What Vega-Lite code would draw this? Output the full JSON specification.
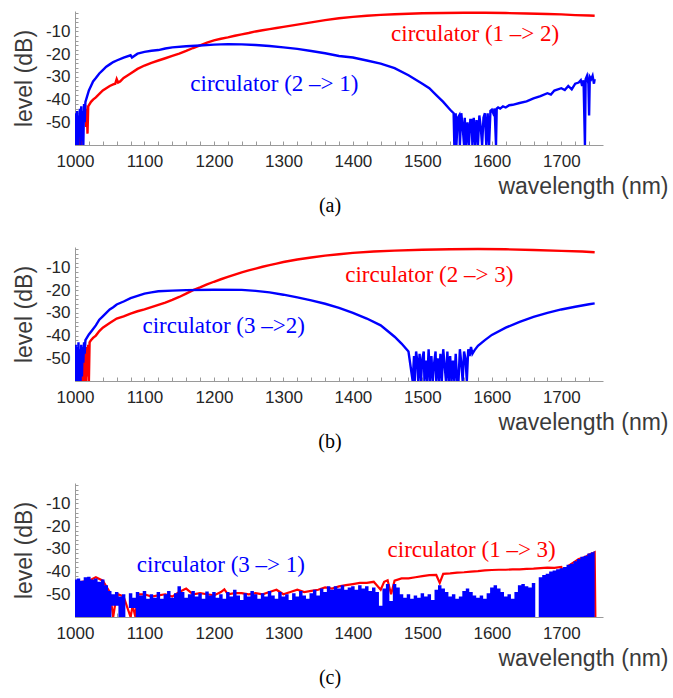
{
"$schema": "https://vega.github.io/schema/vega-lite/v6.json",
"padding": {"left": 12, "top": 4, "right": 5, "bottom": 5},
"background": "white",
"config": {
  "view": {"stroke": null},
  "axis": {"domainColor": "#9a9a9a", "tickColor": "#9a9a9a", "labelFont": "Liberation Sans", "labelFontSize": 17, "labelColor": "#262626", "titleFont": "Liberation Sans", "titleFontSize": 23, "titleFontWeight": "normal", "titleColor": "#3a3a3a", "grid": false},
  "title": {"font": "Liberation Serif", "fontSize": 20, "fontWeight": "normal", "color": "#000000"}
},
"datasets": {
  "a12": [{"w":1003,"l":-60},{"w":1005,"l":-50},{"w":1006,"l":-60},{"w":1008,"l":-48},{"w":1009,"l":-60},{"w":1011,"l":-47},{"w":1013,"l":-45},{"w":1015,"l":-44},{"w":1016,"l":-52},{"w":1017,"l":-44},{"w":1018,"l":-55},{"w":1019,"l":-43},{"w":1021,"l":-42},{"w":1023,"l":-41},{"w":1026,"l":-40},{"w":1030,"l":-39},{"w":1035,"l":-37.5},{"w":1040,"l":-36},{"w":1045,"l":-35},{"w":1050,"l":-34},{"w":1055,"l":-33.3},{"w":1058,"l":-33},{"w":1060,"l":-31},{"w":1062,"l":-32.5},{"w":1065,"l":-32},{"w":1070,"l":-30.5},{"w":1075,"l":-29.5},{"w":1080,"l":-28.5},{"w":1090,"l":-26.5},{"w":1100,"l":-25},{"w":1110,"l":-23.8},{"w":1120,"l":-22.8},{"w":1130,"l":-21.8},{"w":1140,"l":-20.8},{"w":1150,"l":-19.8},{"w":1160,"l":-18.6},{"w":1170,"l":-17.3},{"w":1180,"l":-16.1},{"w":1190,"l":-14.9},{"w":1200,"l":-13.9},{"w":1210,"l":-13.2},{"w":1220,"l":-12.6},{"w":1230,"l":-11.9},{"w":1240,"l":-11.3},{"w":1250,"l":-10.7},{"w":1260,"l":-10},{"w":1270,"l":-9.5},{"w":1280,"l":-9},{"w":1290,"l":-8.5},{"w":1300,"l":-8},{"w":1320,"l":-7},{"w":1340,"l":-6},{"w":1360,"l":-5},{"w":1380,"l":-4.2},{"w":1400,"l":-3.6},{"w":1420,"l":-3.1},{"w":1440,"l":-2.7},{"w":1460,"l":-2.4},{"w":1480,"l":-2.2},{"w":1500,"l":-2},{"w":1530,"l":-1.9},{"w":1560,"l":-1.8},{"w":1590,"l":-1.8},{"w":1620,"l":-1.9},{"w":1650,"l":-2.1},{"w":1680,"l":-2.3},{"w":1700,"l":-2.5},{"w":1720,"l":-2.8},{"w":1740,"l":-3},{"w":1748,"l":-3.1}],
  "a21": [{"w":1000,"l":-60},{"w":1001,"l":-46},{"w":1002,"l":-60},{"w":1003,"l":-45},{"w":1004,"l":-60},{"w":1005,"l":-47},{"w":1006,"l":-56},{"w":1007,"l":-44},{"w":1008,"l":-60},{"w":1009,"l":-43},{"w":1010,"l":-58},{"w":1011,"l":-45},{"w":1012,"l":-60},{"w":1013,"l":-42},{"w":1014,"l":-50},{"w":1015,"l":-41},{"w":1017,"l":-39},{"w":1020,"l":-36},{"w":1023,"l":-34},{"w":1026,"l":-32},{"w":1030,"l":-30.5},{"w":1035,"l":-28.5},{"w":1040,"l":-27},{"w":1045,"l":-25.5},{"w":1050,"l":-24.5},{"w":1055,"l":-23.5},{"w":1060,"l":-22.8},{"w":1070,"l":-21.5},{"w":1080,"l":-20.5},{"w":1082,"l":-21.5},{"w":1090,"l":-19.8},{"w":1100,"l":-19},{"w":1110,"l":-18.5},{"w":1120,"l":-18.2},{"w":1130,"l":-17.5},{"w":1140,"l":-17},{"w":1160,"l":-16.5},{"w":1180,"l":-16.2},{"w":1200,"l":-15.8},{"w":1220,"l":-15.6},{"w":1240,"l":-15.7},{"w":1260,"l":-16},{"w":1280,"l":-16.4},{"w":1300,"l":-17},{"w":1320,"l":-17.7},{"w":1340,"l":-18.6},{"w":1360,"l":-19.6},{"w":1380,"l":-20.8},{"w":1400,"l":-21.5},{"w":1420,"l":-22.8},{"w":1440,"l":-24.2},{"w":1460,"l":-26.2},{"w":1480,"l":-29.3},{"w":1500,"l":-33},{"w":1510,"l":-35},{"w":1520,"l":-38},{"w":1530,"l":-41},{"w":1540,"l":-44.5},{"w":1545,"l":-46},{"w":1546,"l":-60},{"w":1548,"l":-46},{"w":1549,"l":-60},{"w":1551,"l":-48},{"w":1553,"l":-47},{"w":1554,"l":-60},{"w":1556,"l":-46},{"w":1558,"l":-52},{"w":1560,"l":-60},{"w":1561,"l":-48},{"w":1563,"l":-60},{"w":1565,"l":-50},{"w":1567,"l":-60},{"w":1569,"l":-49},{"w":1571,"l":-49},{"w":1572,"l":-60},{"w":1574,"l":-48},{"w":1576,"l":-60},{"w":1578,"l":-49},{"w":1580,"l":-60},{"w":1582,"l":-47},{"w":1584,"l":-52},{"w":1586,"l":-60},{"w":1588,"l":-48},{"w":1590,"l":-46},{"w":1592,"l":-60},{"w":1594,"l":-46},{"w":1596,"l":-60},{"w":1598,"l":-45},{"w":1600,"l":-44.5},{"w":1602,"l":-46},{"w":1604,"l":-44},{"w":1606,"l":-60},{"w":1607,"l":-44},{"w":1609,"l":-43.5},{"w":1612,"l":-44},{"w":1616,"l":-43},{"w":1620,"l":-43.5},{"w":1625,"l":-42.5},{"w":1630,"l":-42.3},{"w":1640,"l":-41.5},{"w":1650,"l":-40.8},{"w":1660,"l":-39.5},{"w":1670,"l":-38.5},{"w":1680,"l":-37.2},{"w":1685,"l":-37.8},{"w":1690,"l":-36},{"w":1700,"l":-35},{"w":1705,"l":-35.8},{"w":1710,"l":-34},{"w":1715,"l":-35.5},{"w":1720,"l":-33},{"w":1725,"l":-32.5},{"w":1728,"l":-31.5},{"w":1730,"l":-34},{"w":1732,"l":-31.5},{"w":1734,"l":-60},{"w":1735,"l":-31},{"w":1737,"l":-29.5},{"w":1739,"l":-33},{"w":1740,"l":-47},{"w":1741,"l":-30},{"w":1743,"l":-31},{"w":1745,"l":-29.5},{"w":1747,"l":-33},{"w":1748,"l":-31}],
  "b23": [{"w":1010,"l":-60},{"w":1011,"l":-46},{"w":1012,"l":-60},{"w":1013,"l":-45},{"w":1014,"l":-60},{"w":1015,"l":-47},{"w":1016,"l":-60},{"w":1017,"l":-45},{"w":1018,"l":-58},{"w":1019,"l":-44},{"w":1020,"l":-60},{"w":1021,"l":-43},{"w":1023,"l":-42},{"w":1026,"l":-41},{"w":1030,"l":-40},{"w":1035,"l":-38},{"w":1040,"l":-36.5},{"w":1050,"l":-34.5},{"w":1060,"l":-32.5},{"w":1070,"l":-31.5},{"w":1080,"l":-30.3},{"w":1090,"l":-29.3},{"w":1100,"l":-28.5},{"w":1110,"l":-27.5},{"w":1120,"l":-26.5},{"w":1130,"l":-25.5},{"w":1140,"l":-24.3},{"w":1150,"l":-23},{"w":1160,"l":-21.5},{"w":1170,"l":-20},{"w":1180,"l":-18.8},{"w":1190,"l":-17.5},{"w":1200,"l":-16.3},{"w":1210,"l":-15.2},{"w":1220,"l":-14.2},{"w":1230,"l":-13.2},{"w":1240,"l":-12.2},{"w":1250,"l":-11.3},{"w":1260,"l":-10.5},{"w":1270,"l":-9.7},{"w":1280,"l":-9},{"w":1290,"l":-8.3},{"w":1300,"l":-7.6},{"w":1320,"l":-6.5},{"w":1340,"l":-5.6},{"w":1360,"l":-4.8},{"w":1380,"l":-4.2},{"w":1400,"l":-3.6},{"w":1430,"l":-3},{"w":1460,"l":-2.6},{"w":1500,"l":-2.2},{"w":1540,"l":-2},{"w":1580,"l":-1.9},{"w":1620,"l":-2},{"w":1660,"l":-2.3},{"w":1700,"l":-2.7},{"w":1730,"l":-3},{"w":1748,"l":-3.3}],
  "b32": [{"w":1000,"l":-60},{"w":1001,"l":-44},{"w":1002,"l":-60},{"w":1003,"l":-45},{"w":1004,"l":-60},{"w":1005,"l":-43},{"w":1006,"l":-60},{"w":1007,"l":-46},{"w":1008,"l":-60},{"w":1009,"l":-44},{"w":1010,"l":-58},{"w":1011,"l":-45},{"w":1012,"l":-52},{"w":1013,"l":-43},{"w":1014,"l":-48},{"w":1015,"l":-42},{"w":1017,"l":-41},{"w":1020,"l":-39.5},{"w":1025,"l":-37.5},{"w":1030,"l":-35.5},{"w":1035,"l":-33},{"w":1040,"l":-31.5},{"w":1045,"l":-30},{"w":1050,"l":-28.5},{"w":1055,"l":-27.5},{"w":1060,"l":-26.3},{"w":1070,"l":-25},{"w":1080,"l":-23.5},{"w":1090,"l":-22.5},{"w":1100,"l":-21.5},{"w":1110,"l":-21},{"w":1120,"l":-20.5},{"w":1140,"l":-20.2},{"w":1160,"l":-20},{"w":1200,"l":-19.8},{"w":1240,"l":-19.9},{"w":1260,"l":-20.3},{"w":1280,"l":-21},{"w":1300,"l":-22},{"w":1320,"l":-23.2},{"w":1340,"l":-24.5},{"w":1360,"l":-26},{"w":1380,"l":-27.8},{"w":1400,"l":-30},{"w":1420,"l":-32.5},{"w":1440,"l":-35.5},{"w":1450,"l":-38},{"w":1460,"l":-40.5},{"w":1470,"l":-43.5},{"w":1480,"l":-47},{"w":1486,"l":-60},{"w":1488,"l":-49},{"w":1489,"l":-60},{"w":1491,"l":-47},{"w":1493,"l":-52},{"w":1494,"l":-60},{"w":1496,"l":-48},{"w":1498,"l":-60},{"w":1500,"l":-50},{"w":1502,"l":-47},{"w":1503,"l":-60},{"w":1505,"l":-51},{"w":1507,"l":-60},{"w":1509,"l":-46},{"w":1511,"l":-60},{"w":1513,"l":-49},{"w":1515,"l":-60},{"w":1517,"l":-52},{"w":1519,"l":-47},{"w":1520,"l":-60},{"w":1522,"l":-50},{"w":1524,"l":-60},{"w":1526,"l":-48},{"w":1528,"l":-60},{"w":1530,"l":-46},{"w":1532,"l":-53},{"w":1534,"l":-60},{"w":1536,"l":-47},{"w":1538,"l":-60},{"w":1540,"l":-49},{"w":1542,"l":-60},{"w":1544,"l":-51},{"w":1546,"l":-60},{"w":1548,"l":-48},{"w":1550,"l":-60},{"w":1552,"l":-60},{"w":1554,"l":-46},{"w":1556,"l":-52},{"w":1558,"l":-60},{"w":1560,"l":-47},{"w":1562,"l":-50},{"w":1564,"l":-60},{"w":1566,"l":-46},{"w":1568,"l":-49},{"w":1570,"l":-45},{"w":1572,"l":-48},{"w":1575,"l":-46.5},{"w":1580,"l":-44.5},{"w":1590,"l":-42},{"w":1600,"l":-39.7},{"w":1620,"l":-36.5},{"w":1640,"l":-34},{"w":1660,"l":-31.8},{"w":1680,"l":-30},{"w":1700,"l":-28.5},{"w":1720,"l":-27.3},{"w":1740,"l":-26.2},{"w":1748,"l":-25.8}],
  "c13": [{"w":1000,"l":-45},{"w":1010,"l":-44.5},{"w":1020,"l":-44},{"w":1030,"l":-42.5},{"w":1040,"l":-44},{"w":1050,"l":-49},{"w":1055,"l":-60},{"w":1058,"l":-54},{"w":1062,"l":-50},{"w":1070,"l":-51},{"w":1080,"l":-60},{"w":1083,"l":-55},{"w":1087,"l":-60},{"w":1090,"l":-50},{"w":1100,"l":-50},{"w":1110,"l":-51},{"w":1120,"l":-50.5},{"w":1130,"l":-50},{"w":1140,"l":-51},{"w":1150,"l":-49},{"w":1160,"l":-47.5},{"w":1170,"l":-50},{"w":1180,"l":-49.5},{"w":1190,"l":-50},{"w":1200,"l":-50.5},{"w":1210,"l":-49},{"w":1215,"l":-47.8},{"w":1220,"l":-50},{"w":1230,"l":-49.5},{"w":1240,"l":-49.5},{"w":1250,"l":-50},{"w":1260,"l":-49.5},{"w":1270,"l":-50},{"w":1280,"l":-49},{"w":1290,"l":-48},{"w":1300,"l":-50},{"w":1310,"l":-49},{"w":1320,"l":-48},{"w":1330,"l":-49},{"w":1340,"l":-48.5},{"w":1350,"l":-48},{"w":1360,"l":-47},{"w":1370,"l":-47.5},{"w":1380,"l":-46.5},{"w":1390,"l":-46},{"w":1400,"l":-45.5},{"w":1410,"l":-45},{"w":1420,"l":-45},{"w":1430,"l":-44.5},{"w":1440,"l":-48},{"w":1445,"l":-44.5},{"w":1450,"l":-43.8},{"w":1455,"l":-50},{"w":1460,"l":-44},{"w":1470,"l":-43},{"w":1480,"l":-43},{"w":1490,"l":-42.5},{"w":1500,"l":-42},{"w":1510,"l":-41.6},{"w":1520,"l":-41.5},{"w":1525,"l":-45},{"w":1530,"l":-41},{"w":1540,"l":-40.8},{"w":1550,"l":-40.5},{"w":1560,"l":-40.3},{"w":1570,"l":-40},{"w":1580,"l":-39.8},{"w":1590,"l":-39.5},{"w":1600,"l":-39.3},{"w":1610,"l":-39.2},{"w":1620,"l":-39.2},{"w":1630,"l":-39},{"w":1640,"l":-39},{"w":1650,"l":-38.8},{"w":1660,"l":-38.7},{"w":1670,"l":-38.5},{"w":1680,"l":-38.3},{"w":1690,"l":-38.4},{"w":1700,"l":-38},{"w":1705,"l":-43},{"w":1710,"l":-37.5},{"w":1715,"l":-36.5},{"w":1720,"l":-35.5},{"w":1725,"l":-34.5},{"w":1730,"l":-34},{"w":1735,"l":-33.5},{"w":1740,"l":-32.5},{"w":1745,"l":-32},{"w":1748,"l":-31.5},{"w":1749,"l":-60}],
  "c31": [{"w":1000,"l":-43.5,"lo":-60},{"w":1005,"l":-43,"lo":-60},{"w":1010,"l":-44,"lo":-60},{"w":1015,"l":-42.5,"lo":-60},{"w":1020,"l":-42.3,"lo":-60},{"w":1025,"l":-43.5,"lo":-60},{"w":1030,"l":-43,"lo":-60},{"w":1035,"l":-44.5,"lo":-60},{"w":1040,"l":-43.5,"lo":-60},{"w":1045,"l":-46,"lo":-60},{"w":1050,"l":-48.5,"lo":-60},{"w":1055,"l":-50,"lo":-55},{"w":1060,"l":-49,"lo":-55},{"w":1065,"l":-51,"lo":-60},{"w":1070,"l":-50,"lo":-60},{"w":1075,"l":-60,"lo":-60},{"w":1080,"l":-49.5,"lo":-56},{"w":1085,"l":-51.5,"lo":-56},{"w":1090,"l":-49,"lo":-60},{"w":1095,"l":-50.5,"lo":-60},{"w":1100,"l":-48.5,"lo":-60},{"w":1105,"l":-52,"lo":-60},{"w":1110,"l":-50,"lo":-60},{"w":1115,"l":-51.5,"lo":-60},{"w":1120,"l":-49,"lo":-60},{"w":1125,"l":-52,"lo":-60},{"w":1130,"l":-50,"lo":-60},{"w":1135,"l":-48.5,"lo":-60},{"w":1140,"l":-51.5,"lo":-60},{"w":1145,"l":-49.5,"lo":-60},{"w":1150,"l":-46.5,"lo":-60},{"w":1155,"l":-49,"lo":-60},{"w":1160,"l":-51.5,"lo":-60},{"w":1165,"l":-50,"lo":-60},{"w":1170,"l":-48.5,"lo":-60},{"w":1175,"l":-51,"lo":-60},{"w":1180,"l":-49.5,"lo":-60},{"w":1185,"l":-52,"lo":-60},{"w":1190,"l":-48.8,"lo":-60},{"w":1195,"l":-50.5,"lo":-60},{"w":1200,"l":-49,"lo":-60},{"w":1205,"l":-51.5,"lo":-60},{"w":1210,"l":-50,"lo":-60},{"w":1215,"l":-52,"lo":-60},{"w":1220,"l":-49,"lo":-60},{"w":1225,"l":-51,"lo":-60},{"w":1230,"l":-48,"lo":-60},{"w":1235,"l":-50.5,"lo":-60},{"w":1240,"l":-52.5,"lo":-60},{"w":1245,"l":-49.5,"lo":-60},{"w":1250,"l":-51,"lo":-60},{"w":1255,"l":-48.5,"lo":-60},{"w":1260,"l":-50,"lo":-60},{"w":1265,"l":-52,"lo":-60},{"w":1270,"l":-49.5,"lo":-60},{"w":1275,"l":-51,"lo":-60},{"w":1280,"l":-48.5,"lo":-60},{"w":1285,"l":-50.5,"lo":-60},{"w":1290,"l":-52,"lo":-60},{"w":1295,"l":-49,"lo":-60},{"w":1300,"l":-51,"lo":-60},{"w":1305,"l":-50,"lo":-60},{"w":1310,"l":-52.5,"lo":-60},{"w":1315,"l":-49.5,"lo":-60},{"w":1320,"l":-51,"lo":-60},{"w":1325,"l":-48.5,"lo":-60},{"w":1330,"l":-50.5,"lo":-60},{"w":1335,"l":-52,"lo":-60},{"w":1340,"l":-49.5,"lo":-60},{"w":1345,"l":-48,"lo":-60},{"w":1350,"l":-50.5,"lo":-60},{"w":1355,"l":-47.5,"lo":-60},{"w":1360,"l":-49,"lo":-60},{"w":1365,"l":-46.5,"lo":-60},{"w":1370,"l":-48,"lo":-60},{"w":1375,"l":-46.5,"lo":-60},{"w":1380,"l":-47.5,"lo":-60},{"w":1385,"l":-46,"lo":-60},{"w":1390,"l":-48,"lo":-60},{"w":1395,"l":-47,"lo":-60},{"w":1400,"l":-46.5,"lo":-60},{"w":1405,"l":-48,"lo":-60},{"w":1410,"l":-46,"lo":-60},{"w":1415,"l":-47.5,"lo":-60},{"w":1420,"l":-46.5,"lo":-60},{"w":1425,"l":-48.5,"lo":-60},{"w":1430,"l":-47,"lo":-60},{"w":1435,"l":-49,"lo":-60},{"w":1440,"l":-55,"lo":-60},{"w":1445,"l":-47.5,"lo":-60},{"w":1450,"l":-45.5,"lo":-60},{"w":1455,"l":-53,"lo":-60},{"w":1460,"l":-45.5,"lo":-60},{"w":1465,"l":-47,"lo":-60},{"w":1470,"l":-50,"lo":-60},{"w":1475,"l":-51.5,"lo":-60},{"w":1480,"l":-50,"lo":-60},{"w":1485,"l":-52,"lo":-60},{"w":1490,"l":-50.5,"lo":-60},{"w":1495,"l":-51.5,"lo":-60},{"w":1500,"l":-49.5,"lo":-60},{"w":1505,"l":-51,"lo":-60},{"w":1510,"l":-50,"lo":-60},{"w":1515,"l":-52.5,"lo":-60},{"w":1520,"l":-48,"lo":-60},{"w":1525,"l":-46,"lo":-60},{"w":1530,"l":-47.5,"lo":-60},{"w":1535,"l":-49,"lo":-60},{"w":1540,"l":-51,"lo":-60},{"w":1545,"l":-50,"lo":-60},{"w":1550,"l":-52,"lo":-60},{"w":1555,"l":-51,"lo":-60},{"w":1560,"l":-48.5,"lo":-60},{"w":1565,"l":-47.5,"lo":-60},{"w":1570,"l":-49,"lo":-60},{"w":1575,"l":-50.5,"lo":-60},{"w":1580,"l":-51.5,"lo":-60},{"w":1585,"l":-50.5,"lo":-60},{"w":1590,"l":-52,"lo":-60},{"w":1595,"l":-49.5,"lo":-60},{"w":1600,"l":-47,"lo":-60},{"w":1605,"l":-46,"lo":-60},{"w":1610,"l":-47.5,"lo":-60},{"w":1615,"l":-49,"lo":-60},{"w":1620,"l":-51,"lo":-60},{"w":1625,"l":-50,"lo":-60},{"w":1630,"l":-52,"lo":-60},{"w":1635,"l":-49,"lo":-60},{"w":1640,"l":-46,"lo":-60},{"w":1645,"l":-45.5,"lo":-60},{"w":1650,"l":-46.5,"lo":-60},{"w":1655,"l":-47,"lo":-60},{"w":1660,"l":-45,"lo":-60},{"w":1665,"l":-60,"lo":-60},{"w":1670,"l":-42.5,"lo":-60},{"w":1675,"l":-41.5,"lo":-60},{"w":1680,"l":-41,"lo":-60},{"w":1685,"l":-40,"lo":-60},{"w":1690,"l":-39.5,"lo":-60},{"w":1695,"l":-39,"lo":-60},{"w":1700,"l":-38.5,"lo":-60},{"w":1705,"l":-38,"lo":-60},{"w":1710,"l":-37,"lo":-60},{"w":1715,"l":-36.5,"lo":-60},{"w":1720,"l":-35.5,"lo":-60},{"w":1725,"l":-34.5,"lo":-60},{"w":1730,"l":-33.5,"lo":-60},{"w":1735,"l":-33,"lo":-60},{"w":1740,"l":-32,"lo":-60},{"w":1745,"l":-31.5,"lo":-60},{"w":1748,"l":-31,"lo":-60}],
  "ann": [
    {"p":"a","d":"forward","w":1576,"l":-11,"t":"circulator (1 –> 2)"},
    {"p":"a","d":"reverse","w":1287,"l":-33.2,"t":"circulator (2 –> 1)"},
    {"p":"b","d":"forward","w":1510,"l":-13.2,"t":"circulator (2 –> 3)"},
    {"p":"b","d":"reverse","w":1214,"l":-36,"t":"circulator (3 –>2)"},
    {"p":"c","d":"forward","w":1571,"l":-30.4,"t":"circulator (1 –> 3)"},
    {"p":"c","d":"reverse","w":1210,"l":-37,"t":"circulator (3 –> 1)"}
  ]
},
"bounds": "flush",
"spacing": 102,
"vconcat": [
  {
    "width": 528, "height": 134,
    "title": {"text": "(a)", "orient": "bottom", "offset": -2, "dx": -9},
    "encoding": {
      "x": {"field": "w", "type": "quantitative", "scale": {"domain": [1000, 1760], "nice": false, "zero": false},
        "axis": {"values": [1000,1020,1040,1060,1080,1100,1120,1140,1160,1180,1200,1220,1240,1260,1280,1300,1320,1340,1360,1380,1400,1420,1440,1460,1480,1500,1520,1540,1560,1580,1600,1620,1640,1660,1680,1700,1720,1740],
          "labelExpr": "datum.value % 100 == 0 ? '' + datum.value : ''", "tickSize": -4, "labelPadding": 12, "labelOverlap": false, "labelFlush": false,
          "title": "wavelength (nm)", "titleX": 593, "titleY": 41, "titleAlign": "right", "titleBaseline": "middle"}},
      "y": {"field": "l", "type": "quantitative", "scale": {"domain": [-60, -1], "nice": false, "zero": false},
        "axis": {"values": [-60,-58,-56,-54,-52,-50,-48,-46,-44,-42,-40,-38,-36,-34,-32,-30,-28,-26,-24,-22,-20,-18,-16,-14,-12,-10,-8,-6,-4,-2],
          "labelExpr": "datum.value % 10 == 0 && datum.value > -60 ? '-' + abs(datum.value) : ''", "tickSize": -3, "labelPadding": 8, "labelOverlap": false, "labelFlush": false,
          "title": "level (dB)", "titleX": -51, "titleY": 67, "titleAlign": "center", "titleBaseline": "middle", "titleAngle": -90}}
    },
    "layer": [
      {"data": {"name": "a12"}, "mark": {"type": "line", "color": "#ff0000", "strokeWidth": 2.4, "clip": true}},
      {"data": {"name": "a21"}, "mark": {"type": "line", "color": "#0000ff", "strokeWidth": 2.4, "clip": true}},
      {"data": {"name": "ann"}, "transform": [{"filter": "datum.p == 'a'"}], "mark": {"type": "text", "font": "Liberation Serif", "fontSize": 23, "align": "center", "baseline": "middle"},
       "encoding": {"text": {"field": "t"}, "color": {"field": "d", "type": "nominal", "scale": {"domain": ["forward", "reverse"], "range": ["#ff0000", "#0000ff"]}, "legend": null}}}
    ]
  },
  {
    "width": 528, "height": 134,
    "title": {"text": "(b)", "orient": "bottom", "offset": -2, "dx": -9},
    "encoding": {
      "x": {"field": "w", "type": "quantitative", "scale": {"domain": [1000, 1760], "nice": false, "zero": false},
        "axis": {"values": [1000,1020,1040,1060,1080,1100,1120,1140,1160,1180,1200,1220,1240,1260,1280,1300,1320,1340,1360,1380,1400,1420,1440,1460,1480,1500,1520,1540,1560,1580,1600,1620,1640,1660,1680,1700,1720,1740],
          "labelExpr": "datum.value % 100 == 0 ? '' + datum.value : ''", "tickSize": -4, "labelPadding": 12, "labelOverlap": false, "labelFlush": false,
          "title": "wavelength (nm)", "titleX": 593, "titleY": 41, "titleAlign": "right", "titleBaseline": "middle"}},
      "y": {"field": "l", "type": "quantitative", "scale": {"domain": [-60, -1], "nice": false, "zero": false},
        "axis": {"values": [-60,-58,-56,-54,-52,-50,-48,-46,-44,-42,-40,-38,-36,-34,-32,-30,-28,-26,-24,-22,-20,-18,-16,-14,-12,-10,-8,-6,-4,-2],
          "labelExpr": "datum.value % 10 == 0 && datum.value > -60 ? '-' + abs(datum.value) : ''", "tickSize": -3, "labelPadding": 8, "labelOverlap": false, "labelFlush": false,
          "title": "level (dB)", "titleX": -51, "titleY": 67, "titleAlign": "center", "titleBaseline": "middle", "titleAngle": -90}}
    },
    "layer": [
      {"data": {"name": "b23"}, "mark": {"type": "line", "color": "#ff0000", "strokeWidth": 2.4, "clip": true}},
      {"data": {"name": "b32"}, "mark": {"type": "line", "color": "#0000ff", "strokeWidth": 2.4, "clip": true}},
      {"data": {"name": "ann"}, "transform": [{"filter": "datum.p == 'b'"}], "mark": {"type": "text", "font": "Liberation Serif", "fontSize": 23, "align": "center", "baseline": "middle"},
       "encoding": {"text": {"field": "t"}, "color": {"field": "d", "type": "nominal", "scale": {"domain": ["forward", "reverse"], "range": ["#ff0000", "#0000ff"]}, "legend": null}}}
    ]
  },
  {
    "width": 528, "height": 134,
    "title": {"text": "(c)", "orient": "bottom", "offset": -2, "dx": -9},
    "encoding": {
      "x": {"field": "w", "type": "quantitative", "scale": {"domain": [1000, 1760], "nice": false, "zero": false},
        "axis": {"values": [1000,1020,1040,1060,1080,1100,1120,1140,1160,1180,1200,1220,1240,1260,1280,1300,1320,1340,1360,1380,1400,1420,1440,1460,1480,1500,1520,1540,1560,1580,1600,1620,1640,1660,1680,1700,1720,1740],
          "labelExpr": "datum.value % 100 == 0 ? '' + datum.value : ''", "tickSize": -4, "labelPadding": 12, "labelOverlap": false, "labelFlush": false,
          "title": "wavelength (nm)", "titleX": 593, "titleY": 41, "titleAlign": "right", "titleBaseline": "middle"}},
      "y": {"field": "l", "type": "quantitative", "scale": {"domain": [-60, -1], "nice": false, "zero": false},
        "axis": {"values": [-60,-58,-56,-54,-52,-50,-48,-46,-44,-42,-40,-38,-36,-34,-32,-30,-28,-26,-24,-22,-20,-18,-16,-14,-12,-10,-8,-6,-4,-2],
          "labelExpr": "datum.value % 10 == 0 && datum.value > -60 ? '-' + abs(datum.value) : ''", "tickSize": -3, "labelPadding": 8, "labelOverlap": false, "labelFlush": false,
          "title": "level (dB)", "titleX": -51, "titleY": 67, "titleAlign": "center", "titleBaseline": "middle", "titleAngle": -90}}
    },
    "layer": [
      {"data": {"name": "c13"}, "mark": {"type": "line", "color": "#ff0000", "strokeWidth": 2.2, "clip": true}},
      {"data": {"name": "c31"}, "mark": {"type": "area", "color": "#0000ff", "interpolate": "step", "opacity": 1, "clip": true}, "encoding": {"y2": {"field": "lo"}}},
      {"data": {"name": "ann"}, "transform": [{"filter": "datum.p == 'c'"}], "mark": {"type": "text", "font": "Liberation Serif", "fontSize": 23, "align": "center", "baseline": "middle"},
       "encoding": {"text": {"field": "t"}, "color": {"field": "d", "type": "nominal", "scale": {"domain": ["forward", "reverse"], "range": ["#ff0000", "#0000ff"]}, "legend": null}}}
    ]
  }
]
}
